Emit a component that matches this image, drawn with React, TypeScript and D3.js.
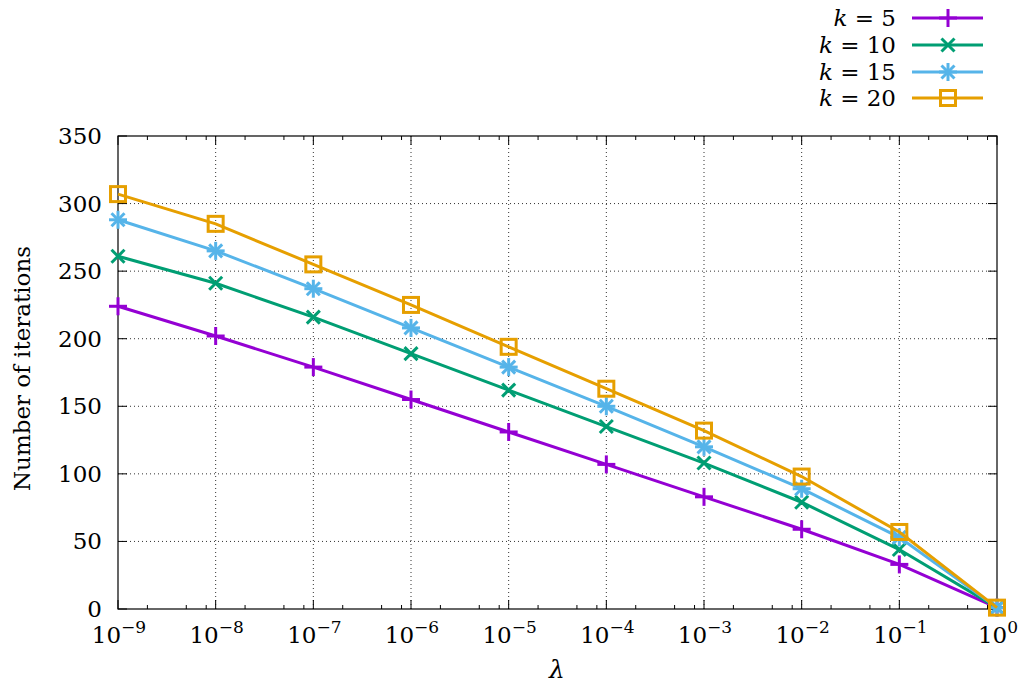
import React, { useRef, useEffect } from 'react';
import * as d3 from 'd3';

const lambdas = [1e-9, 1e-8, 1e-7, 1e-6, 1e-5, 1e-4, 1e-3, 1e-2, 1e-1, 1];
const exponents = [-9, -8, -7, -6, -5, -4, -3, -2, -1, 0];
const minorSteps = [2, 5, 8];
const yTicks = [0, 50, 100, 150, 200, 250, 300, 350];

const k5 = [224, 202, 179, 155, 131, 107, 83, 59, 33, 1];
const k10 = [261, 241, 216, 189, 162, 135, 108, 79, 44, 1];
const k15 = [288, 265, 237, 208, 179, 150, 120, 89, 53, 1];
const k20 = [307, 285, 255, 225, 194, 163, 132, 98, 57, 1];

const seriesNames = ['5', '10', '15', '20'];
const seriesColors = ['#9400d3', '#009e73', '#56b4e9', '#e69f00'];
const seriesMarkers = ['plus', 'cross', 'star', 'square'];

const FONT = "'DejaVu Serif', 'Liberation Serif', serif";

const App = () => {
  const ref = useRef<SVGSVGElement | null>(null);

  useEffect(() => {
    if (!ref.current) return;
    const svg = d3.select(ref.current);
    svg.selectAll('*').remove();

    const left = 118, right = 997, top = 136, bottom = 609;
    const x = d3.scaleLog().domain([1e-9, 1]).range([left, right]);
    const y = d3.scaleLinear().domain([0, 350]).range([bottom, top]);

    // grid
    const grid = svg.append('g').attr('stroke', '#000').attr('stroke-width', 1).attr('stroke-dasharray', '1,3').attr('opacity', 0.8);
    lambdas.slice(1, -1).forEach(v => {
      grid.append('line').attr('x1', x(v)).attr('x2', x(v)).attr('y1', top).attr('y2', bottom);
    });
    yTicks.slice(1, -1).forEach(v => {
      grid.append('line').attr('x1', left).attr('x2', right).attr('y1', y(v)).attr('y2', y(v));
    });

    // ticks
    const ticks = svg.append('g').attr('stroke', '#000').attr('stroke-width', 1);
    yTicks.forEach(v => {
      ticks.append('line').attr('x1', left).attr('x2', left + 9).attr('y1', y(v)).attr('y2', y(v));
      ticks.append('line').attr('x1', right).attr('x2', right - 9).attr('y1', y(v)).attr('y2', y(v));
    });
    lambdas.forEach((v, i) => {
      ticks.append('line').attr('x1', x(v)).attr('x2', x(v)).attr('y1', bottom).attr('y2', bottom - 9);
      ticks.append('line').attr('x1', x(v)).attr('x2', x(v)).attr('y1', top).attr('y2', top + 9);
      if (i < lambdas.length - 1) {
        minorSteps.forEach(m => {
          const xm = x(v * m);
          ticks.append('line').attr('x1', xm).attr('x2', xm).attr('y1', bottom).attr('y2', bottom - 4);
          ticks.append('line').attr('x1', xm).attr('x2', xm).attr('y1', top).attr('y2', top + 4);
        });
      }
    });

    svg.append('rect').attr('x', left).attr('y', top).attr('width', right - left).attr('height', bottom - top)
      .attr('fill', 'none').attr('stroke', '#000').attr('stroke-width', 1.2);

    // y tick labels
    yTicks.forEach(v => {
      svg.append('text').attr('x', left - 16).attr('y', y(v) + 8).attr('text-anchor', 'end')
        .style('font-family', FONT).attr('font-size', 23).text(v);
    });

    // x tick labels
    exponents.forEach((e, i) => {
      const t = svg.append('text').attr('x', x(lambdas[i]) + 1).attr('y', 643).attr('text-anchor', 'middle')
        .style('font-family', FONT).attr('font-size', 23);
      t.append('tspan').text('10');
      t.append('tspan').attr('dy', -10).attr('font-size', 17).text(e < 0 ? '\u2212' + (-e) : String(e));
    });

    svg.append('text').attr('x', 557).attr('y', 678).attr('text-anchor', 'middle')
      .style('font-family', FONT).attr('font-size', 25).attr('font-style', 'italic').text('\u03bb');

    svg.append('text').attr('transform', `translate(30,${(top + bottom) / 2 - 4}) rotate(-90)`)
      .attr('text-anchor', 'middle').style('font-family', FONT).attr('font-size', 23).text('Number of iterations');

    const drawMarker = (g: any, kind: string, cx: number, cy: number, color: string) => {
      const s = 9;
      if (kind === 'plus' || kind === 'star') {
        g.append('line').attr('x1', cx - s).attr('x2', cx + s).attr('y1', cy).attr('y2', cy).attr('stroke', color).attr('stroke-width', 3);
        g.append('line').attr('x1', cx).attr('x2', cx).attr('y1', cy - s).attr('y2', cy + s).attr('stroke', color).attr('stroke-width', 3);
      }
      if (kind === 'cross' || kind === 'star') {
        const d = 6.5;
        g.append('line').attr('x1', cx - d).attr('x2', cx + d).attr('y1', cy - d).attr('y2', cy + d).attr('stroke', color).attr('stroke-width', 3);
        g.append('line').attr('x1', cx - d).attr('x2', cx + d).attr('y1', cy + d).attr('y2', cy - d).attr('stroke', color).attr('stroke-width', 3);
      }
      if (kind === 'square') {
        g.append('rect').attr('x', cx - 7.5).attr('y', cy - 7.5).attr('width', 15).attr('height', 15)
          .attr('fill', 'none').attr('stroke', color).attr('stroke-width', 3);
      }
    };

    const allSeries = [k5, k10, k15, k20];
    const line = d3.line<number>().x((_, i) => x(lambdas[i])).y(d => y(d));
    allSeries.forEach((vals, si) => {
      const color = seriesColors[si];
      const g = svg.append('g');
      g.append('path').attr('d', line(vals)).attr('fill', 'none').attr('stroke', color).attr('stroke-width', 3);
      vals.forEach((v, i) => drawMarker(g, seriesMarkers[si], x(lambdas[i]), y(v), color));
    });

    // legend
    const legendY = [18, 45, 72, 98];
    seriesNames.forEach((n, si) => {
      const ly = legendY[si];
      const color = seriesColors[si];
      const t = svg.append('text').attr('x', 896).attr('y', ly + 8).attr('text-anchor', 'end')
        .style('font-family', FONT).attr('font-size', 23);
      t.append('tspan').attr('font-style', 'italic').text('k');
      t.append('tspan').text(' = ' + n);
      svg.append('line').attr('x1', 912).attr('x2', 983).attr('y1', ly).attr('y2', ly).attr('stroke', color).attr('stroke-width', 3);
      drawMarker(svg, seriesMarkers[si], 948, ly, color);
    });
  }, []);

  return (
    <svg ref={ref} width={1019} height={689}
      style={{ position: 'absolute', left: 0, top: 0, background: '#fff' }} />
  );
};

export default App;
